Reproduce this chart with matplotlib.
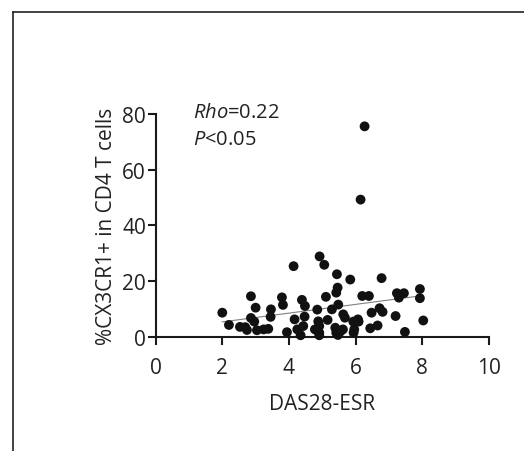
import numpy as np
import matplotlib.pyplot as plt
from matplotlib.lines import Line2D

plt.rcParams["font.family"] = ["Open Sans", "DejaVu Sans"]
plt.rcParams["mathtext.fontset"] = "custom"
plt.rcParams["mathtext.rm"] = "Open Sans"
plt.rcParams["mathtext.it"] = "Open Sans:italic"

# DAS28-ESR vs %CX3CR1+ in CD4 T cells
das28 = [6.27, 6.15, 4.92, 5.06, 4.14, 5.44, 5.84, 6.78, 5.46, 5.42,
         5.11, 6.20, 6.40, 7.93, 7.93, 7.24, 7.45, 7.30, 2.86, 3.79,
         3.82, 4.39, 4.48, 3.00, 3.46, 3.45, 2.00, 4.85, 5.29, 5.48,
         5.63, 5.68, 6.48, 6.72, 6.81, 7.20, 8.03, 2.86, 2.96, 2.20,
         2.53, 2.69, 2.74, 3.04, 3.24, 3.38, 4.17, 4.47, 4.25, 4.43,
         3.94, 4.35, 4.88, 4.91, 4.78, 4.91, 5.16, 5.39, 5.42, 5.54,
         5.62, 5.93, 6.07, 6.09, 5.96, 5.94, 6.44, 6.66, 7.48, 5.47,
         4.91]
cx3cr1 = [75.5, 49.2, 28.8, 25.8, 25.3, 22.4, 20.5, 21.0, 17.6, 15.8,
          14.3, 14.6, 14.6, 17.1, 13.8, 15.6, 15.6, 14.0, 14.5, 14.1,
          11.4, 13.2, 11.0, 10.4, 9.8, 7.1, 8.6, 9.7, 9.8, 11.5,
          8.0, 6.8, 8.6, 10.2, 8.9, 7.4, 5.8, 6.7, 5.4, 4.2,
          3.5, 3.4, 2.4, 2.3, 2.6, 2.8, 6.2, 7.2, 2.6, 3.8,
          1.6, 0.5, 5.5, 3.8, 2.6, 1.4, 6.0, 3.2, 1.4, 1.8,
          2.6, 5.4, 6.2, 5.4, 2.6, 1.4, 3.0, 4.0, 1.7, 0.6,
          0.5]

# regression line as drawn in the figure
fit_x = [2.0, 7.95]
fit_slope = 1.57
fit_intercept = 2.16

x_ticks = [0, 2, 4, 6, 8, 10]
y_ticks = [0, 20, 40, 60, 80]

fig = plt.figure(figsize=(5.24, 4.52), dpi=100)
ax = fig.add_axes([0.297, 0.253, 0.636, 0.493])

ax.scatter(das28, cx3cr1, s=50, color="#111111", edgecolors="none",
           zorder=3, clip_on=False)

fx = np.array(fit_x)
ax.plot(fx, fit_slope * fx + fit_intercept, color="#808080", lw=0.8, zorder=2)

ax.set_xlim(0, 10)
ax.set_ylim(0, 80)
ax.set_xticks(x_ticks)
ax.set_yticks(y_ticks)

for side in ["top", "right"]:
    ax.spines[side].set_visible(False)
for side in ["left", "bottom"]:
    ax.spines[side].set_linewidth(1.5)
    ax.spines[side].set_color("#1a1a1a")

ax.tick_params(direction="out", length=5.5, width=1.5, color="#1a1a1a",
               labelsize=15, labelcolor="#222222")
ax.tick_params(axis="x", pad=9)
ax.tick_params(axis="y", pad=1.5)

ax.set_xlabel("DAS28-ESR", fontsize=15, color="#222222", labelpad=11)
ax.set_ylabel("%CX3CR1+ in CD4 T cells", fontsize=15, color="#222222",
              labelpad=3.5)

ax.text(1.12, 78.9, r"$\mathit{Rho}$=0.22", fontsize=14.5, va="baseline",
        ha="left", color="#222222")
ax.text(1.12, 69.2, r"$\mathit{P}$<0.05", fontsize=14.5, va="baseline",
        ha="left", color="#222222")

# outer frame: top and left border only
fig.add_artist(Line2D([12.5 / 524, 1], [1 - 12.5 / 452] * 2,
                      transform=fig.transFigure, color="#222222", lw=1.2))
fig.add_artist(Line2D([12.5 / 524] * 2, [0, 1 - 12.5 / 452],
                      transform=fig.transFigure, color="#222222", lw=1.2))

fig.savefig("out.png", dpi=100)
